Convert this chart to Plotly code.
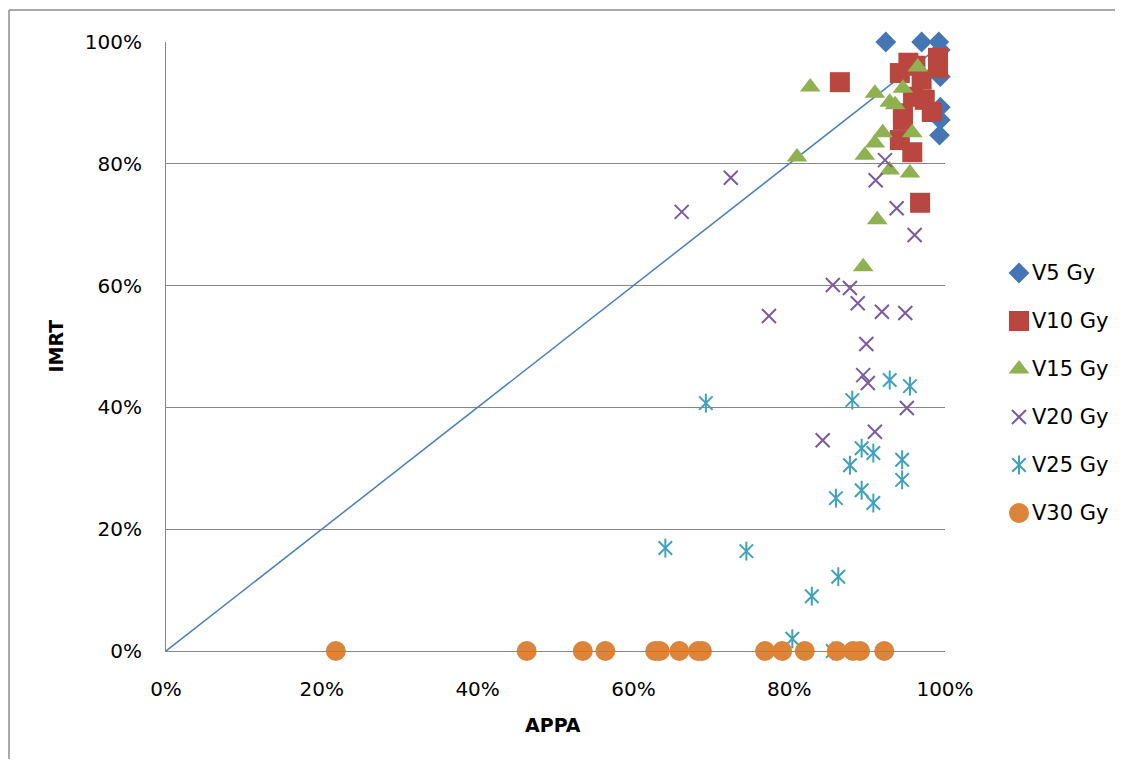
import plotly.graph_objects as go

# ---- data ----
series_names = ["V5 Gy", "V10 Gy", "V15 Gy", "V20 Gy", "V25 Gy", "V30 Gy"]

v5_x = [0.924, 0.970, 0.992, 0.994, 0.994, 0.994, 0.994, 0.993]
v5_y = [1.0, 1.0, 1.0, 0.987, 0.943, 0.893, 0.872, 0.847]

v10_x = [0.865, 0.953, 0.942, 0.962, 0.991, 0.991, 0.970, 0.959, 0.974, 0.946, 0.983, 0.946, 0.942, 0.958, 0.968]
v10_y = [0.934, 0.966, 0.949, 0.961, 0.974, 0.957, 0.938, 0.910, 0.905, 0.883, 0.885, 0.872, 0.839, 0.819, 0.736]

v15_x = [0.827, 0.910, 0.929, 0.936, 0.946, 0.965, 0.920, 0.910, 0.958, 0.897, 0.929, 0.955, 0.913, 0.810, 0.895]
v15_y = [0.926, 0.916, 0.901, 0.897, 0.924, 0.959, 0.851, 0.834, 0.851, 0.814, 0.790, 0.785, 0.708, 0.811, 0.631]

v20_x = [0.662, 0.725, 0.774, 0.856, 0.878, 0.888, 0.919, 0.949, 0.899, 0.895, 0.901, 0.951, 0.910, 0.843, 0.961, 0.923, 0.911, 0.938]
v20_y = [0.721, 0.777, 0.550, 0.601, 0.596, 0.571, 0.557, 0.555, 0.504, 0.453, 0.440, 0.399, 0.360, 0.346, 0.683, 0.806, 0.773, 0.727]

v25_x = [0.881, 0.929, 0.955, 0.893, 0.908, 0.878, 0.945, 0.945, 0.860, 0.893, 0.908, 0.641, 0.745, 0.693, 0.829, 0.863, 0.804, 0.856]
v25_y = [0.412, 0.445, 0.435, 0.333, 0.325, 0.305, 0.314, 0.281, 0.251, 0.264, 0.243, 0.169, 0.164, 0.407, 0.090, 0.122, 0.020, 0.0]

v30_x = [0.218, 0.463, 0.535, 0.564, 0.628, 0.634, 0.659, 0.683, 0.688, 0.769, 0.791, 0.820, 0.861, 0.882, 0.891, 0.922]
v30_y = [0.0] * len(v30_x)

line_x = [0.0, 1.0]
line_y = [0.0, 1.0]

tick_vals = [0, 0.2, 0.4, 0.6, 0.8, 1.0]
tick_text = ["0%", "20%", "40%", "60%", "80%", "100%"]

# ---- styles ----
BLUE = "#4675B4"
RED = "#B9463F"
GREEN = "#8FB151"
PURPLE = "#7A5C9E"
TEAL = "#40A1BB"
ORANGE = "#DB843A"
FONT = "DejaVu Sans"

OFF = 8                      # page body margin
W, H = 1123 - 2 * OFF, 767 - 2 * OFF
PL, PT, PR, PB = 166, 42, 945, 651   # target plot box in page pixels
L, T = PL - OFF, PT - OFF
B = H - (PB - OFF)
pw = W - L
ph = H - T - B
main_dom = (PR - PL) / pw

styles = [
    dict(symbol="diamond", size=16, color=BLUE, lw=0),
    dict(symbol="square", size=20, color=RED, lw=0),
    dict(symbol="triangle-up", size=18, color=GREEN, lw=0),
    dict(symbol="x-thin", size=14, color=PURPLE, lw=2),
    dict(symbol="x-thin", size=13.5, color=TEAL, lw=2),
    dict(symbol="circle", size=20, color=ORANGE, lw=0),
]
data = [(v5_x, v5_y), (v10_x, v10_y), (v15_x, v15_y), (v20_x, v20_y), (v25_x, v25_y), (v30_x, v30_y)]

fig = go.Figure()

fig.add_trace(go.Scatter(x=line_x, y=line_y, mode="lines",
                         line=dict(color="#4A7EBB", width=1.5),
                         showlegend=False, hoverinfo="skip"))


def add_series(xs, ys, st, xa="x", ya="y"):
    if st["symbol"] == "x-thin":
        mk = dict(symbol=st["symbol"], size=st["size"],
                  line=dict(color=st["color"], width=st["lw"]), color=st["color"])
    else:
        mk = dict(symbol=st["symbol"], size=st["size"], color=st["color"],
                  line=dict(width=0))
    fig.add_trace(go.Scatter(x=xs, y=ys, mode="markers", marker=mk,
                             xaxis=xa, yaxis=ya, cliponaxis=False, showlegend=False))


def add_stroke(xs, ys, xa="x", ya="y"):
    fig.add_trace(go.Scatter(x=xs, y=ys, mode="markers",
                             marker=dict(symbol="line-ns", size=13.5, color=TEAL,
                                         line=dict(color=TEAL, width=2)),
                             xaxis=xa, yaxis=ya, cliponaxis=False, showlegend=False))


for i, ((xs, ys), st) in enumerate(zip(data, styles)):
    add_series(xs, ys, st)
    if i == 4:  # asterisk: add vertical stroke
        add_stroke(xs, ys)

# ---- custom legend on a helper axis (pixel-like units) ----
leg_x0 = 1019 - PR          # marker x offset from plot right edge
leg_y0 = 273 - PT           # first entry offset from top of plot
leg_dy = 48
for i, (name, st) in enumerate(zip(series_names, styles)):
    yy = leg_y0 + i * leg_dy
    add_series([leg_x0], [yy], st, xa="x2", ya="y2")
    if i == 4:
        add_stroke([leg_x0], [yy], xa="x2", ya="y2")
    fig.add_annotation(x=leg_x0 + 11, y=yy, xref="x2", yref="y2", text=name,
                       showarrow=False, xanchor="left", yanchor="middle",
                       font=dict(family=FONT, size=21, color="black"))

grid = "#878787"
fig.update_layout(
    width=W, height=H, autosize=False,
    margin=dict(l=L, r=0, t=T, b=B, pad=0, autoexpand=False),
    plot_bgcolor="white", paper_bgcolor="white",
    showlegend=False,
    font=dict(family=FONT, size=20, color="black"),
    xaxis=dict(domain=[0, main_dom], range=[0, 1], tickvals=tick_vals, ticktext=tick_text,
               showgrid=False, zeroline=False, showline=True, linecolor=grid, linewidth=1,
               automargin=False,
               ticks="", ticklabelstandoff=20, tickfont=dict(family=FONT, size=20)),
    yaxis=dict(range=[0, 1], tickvals=tick_vals, ticktext=tick_text,
               showgrid=True, gridcolor=grid, gridwidth=1, zeroline=False,
               showline=True, linecolor=grid, linewidth=1, automargin=False,
               ticks="", ticklabelstandoff=19, tickfont=dict(family=FONT, size=20)),
    xaxis2=dict(domain=[main_dom, 1], range=[0, (W + OFF) - PR], visible=False,
                anchor="y2", automargin=False),
    yaxis2=dict(domain=[0, 1], range=[PB - PT, 0], visible=False, anchor="x2",
                automargin=False),
)

# axis titles
fig.add_annotation(x=(55 - PL) / pw, y=0.5, xref="paper", yref="paper", text="<b>IMRT</b>",
                   showarrow=False, textangle=-90, xanchor="center", yanchor="middle",
                   font=dict(family=FONT, size=19, color="black"))
fig.add_annotation(x=(553 - PL) / pw, y=-(725 - PB) / ph, xref="paper", yref="paper",
                   text="<b>APPA</b>", showarrow=False, xanchor="center", yanchor="middle",
                   font=dict(family=FONT, size=19, color="black"))

# outer chart border (left and top)
bx = (OFF + 1 - PL) / pw
by = (PB - 10) / ph
fig.add_shape(type="line", xref="paper", yref="paper", x0=bx, x1=bx, y0=by, y1=-(B + 5) / ph,
              line=dict(color="#8C8C8C", width=1.5))
fig.add_shape(type="line", xref="paper", yref="paper", x0=bx, x1=(W + 5 - L) / pw, y0=by, y1=by,
              line=dict(color="#8C8C8C", width=1.5))

fig.write_html("out.html")
